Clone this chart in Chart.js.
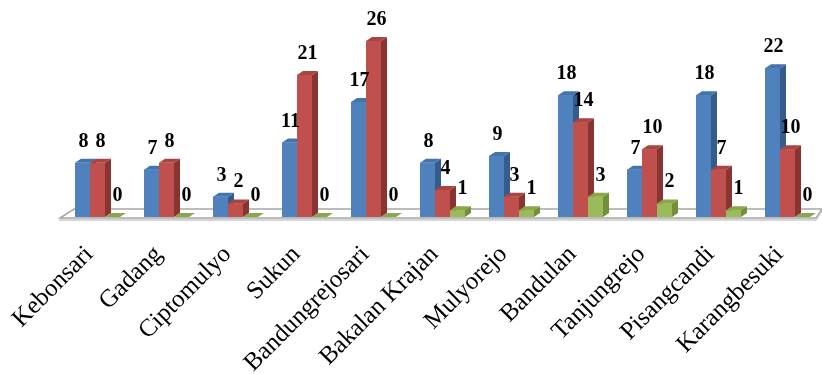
<!DOCTYPE html>
<html lang="en">
<head>
  <meta charset="UTF-8">
  <title>Kelurahan</title>
  <script src="https://cdn.jsdelivr.net/npm/chart.js"></script>
  <style>
    html, body { margin: 0; padding: 0; background: #ffffff; }
    .chart-container { width: 822px; height: 374px; }
  </style>
</head>
<body>
  <div class="chart-container"><canvas id="barChart"></canvas></div>

  <script>
    const kelurahan = ["Kebonsari", "Gadang", "Ciptomulyo", "Sukun", "Bandungrejosari", "Bakalan Krajan",
                       "Mulyorejo", "Bandulan", "Tanjungrejo", "Pisangcandi", "Karangbesuki"];
    const seri1 = [8, 7, 3, 11, 17, 8, 9, 18, 7, 18, 22];
    const seri2 = [8, 8, 2, 21, 26, 4, 3, 14, 10, 7, 10];
    const seri3 = [0, 0, 0, 0, 0, 1, 1, 3, 2, 1, 0];

    const shades = [
      { front: '#4F81BD', side: '#355C8C', top: '#4474AE' },
      { front: '#C0504D', side: '#8A3432', top: '#AA4441' },
      { front: '#9BBB59', side: '#72903A', top: '#88A84A' }
    ];
    const DX = 6, DY = 4;

    // floor plane under the bars
    const floorPlugin = {
      id: 'floor',
      beforeDatasetsDraw(chart) {
        const { ctx, chartArea: a } = chart;
        const fy = a.bottom + 1, by = a.bottom - 8;
        ctx.save();
        ctx.fillStyle = '#ffffff';
        ctx.strokeStyle = '#A6A6A6';
        ctx.lineWidth = 1.5;
        ctx.beginPath();
        ctx.moveTo(a.left - 3, fy);
        ctx.lineTo(a.right - 6, fy);
        ctx.lineTo(a.right, by);
        ctx.lineTo(a.left + 11, by);
        ctx.closePath();
        ctx.fill();
        ctx.stroke();
        ctx.strokeStyle = '#C9C9C9';
        ctx.beginPath();
        ctx.moveTo(a.left - 3, fy);
        ctx.lineTo(a.left - 3, fy + 2);
        ctx.lineTo(a.right - 6, fy + 2);
        ctx.lineTo(a.right, by + 2);
        ctx.stroke();
        ctx.restore();
      }
    };

    // 3D faces + value labels
    const bar3dPlugin = {
      id: 'bar3d',
      afterDatasetsDraw(chart) {
        const ctx = chart.ctx;
        const metas = chart.data.datasets.map((d, i) => chart.getDatasetMeta(i));
        ctx.save();
        for (let j = 0; j < kelurahan.length; j++) {
          metas.forEach((meta, i) => {
            const el = meta.data[j];
            const { x, y, base, width } = el.getProps(['x', 'y', 'base', 'width'], true);
            const l = x - width / 2, r = x + width / 2;
            const s = shades[i];
            ctx.fillStyle = s.side;
            ctx.beginPath();
            ctx.moveTo(r, base); ctx.lineTo(r + DX, base - DY);
            ctx.lineTo(r + DX, y - DY); ctx.lineTo(r, y);
            ctx.closePath(); ctx.fill();
            ctx.fillStyle = s.top;
            ctx.beginPath();
            ctx.moveTo(l, y); ctx.lineTo(r, y);
            ctx.lineTo(r + DX, y - DY); ctx.lineTo(l + DX, y - DY);
            ctx.closePath(); ctx.fill();
            ctx.fillStyle = s.front;
            ctx.fillRect(l, y, width, base - y);
          });
        }
        ctx.fillStyle = '#000000';
        ctx.font = 'bold 20px "Liberation Serif", "Times New Roman", serif';
        ctx.textAlign = 'center';
        ctx.textBaseline = 'alphabetic';
        metas.forEach((meta, i) => {
          meta.data.forEach((el, j) => {
            const { x, y } = el.getProps(['x', 'y'], true);
            const v = chart.data.datasets[i].data[j];
            ctx.fillText(String(v), x + 1 + i * 2, y - 16);
          });
        });
        ctx.restore();
      }
    };

    new Chart(document.getElementById('barChart'), {
      type: 'bar',
      data: {
        labels: kelurahan,
        datasets: [
          { label: 'Seri 1', data: seri1, backgroundColor: shades[0].front },
          { label: 'Seri 2', data: seri2, backgroundColor: shades[1].front },
          { label: 'Seri 3', data: seri3, backgroundColor: shades[2].front }
        ]
      },
      options: {
        responsive: true,
        maintainAspectRatio: false,
        animation: false,
        layout: { padding: { left: 63, right: 0, top: 14, bottom: 0 } },
        datasets: { bar: { categoryPercentage: 0.652, barPercentage: 1 } },
        plugins: {
          legend: { display: false },
          tooltip: { enabled: false }
        },
        scales: {
          x: {
            grid: { display: false },
            border: { display: false },
            ticks: {
              color: '#000000',
              minRotation: 45,
              maxRotation: 45,
              autoSkip: false,
              padding: 15,
              labelOffset: -8,
              font: { family: '"Liberation Serif", "Times New Roman", serif', size: 25 }
            },
            afterFit(scale) {
              scale.height = 157;
              scale.paddingLeft = 0;
              scale.paddingRight = 0;
            }
          },
          y: {
            display: false,
            min: 0,
            max: 30
          }
        }
      },
      plugins: [floorPlugin, bar3dPlugin]
    });
  </script>
</body>
</html>
